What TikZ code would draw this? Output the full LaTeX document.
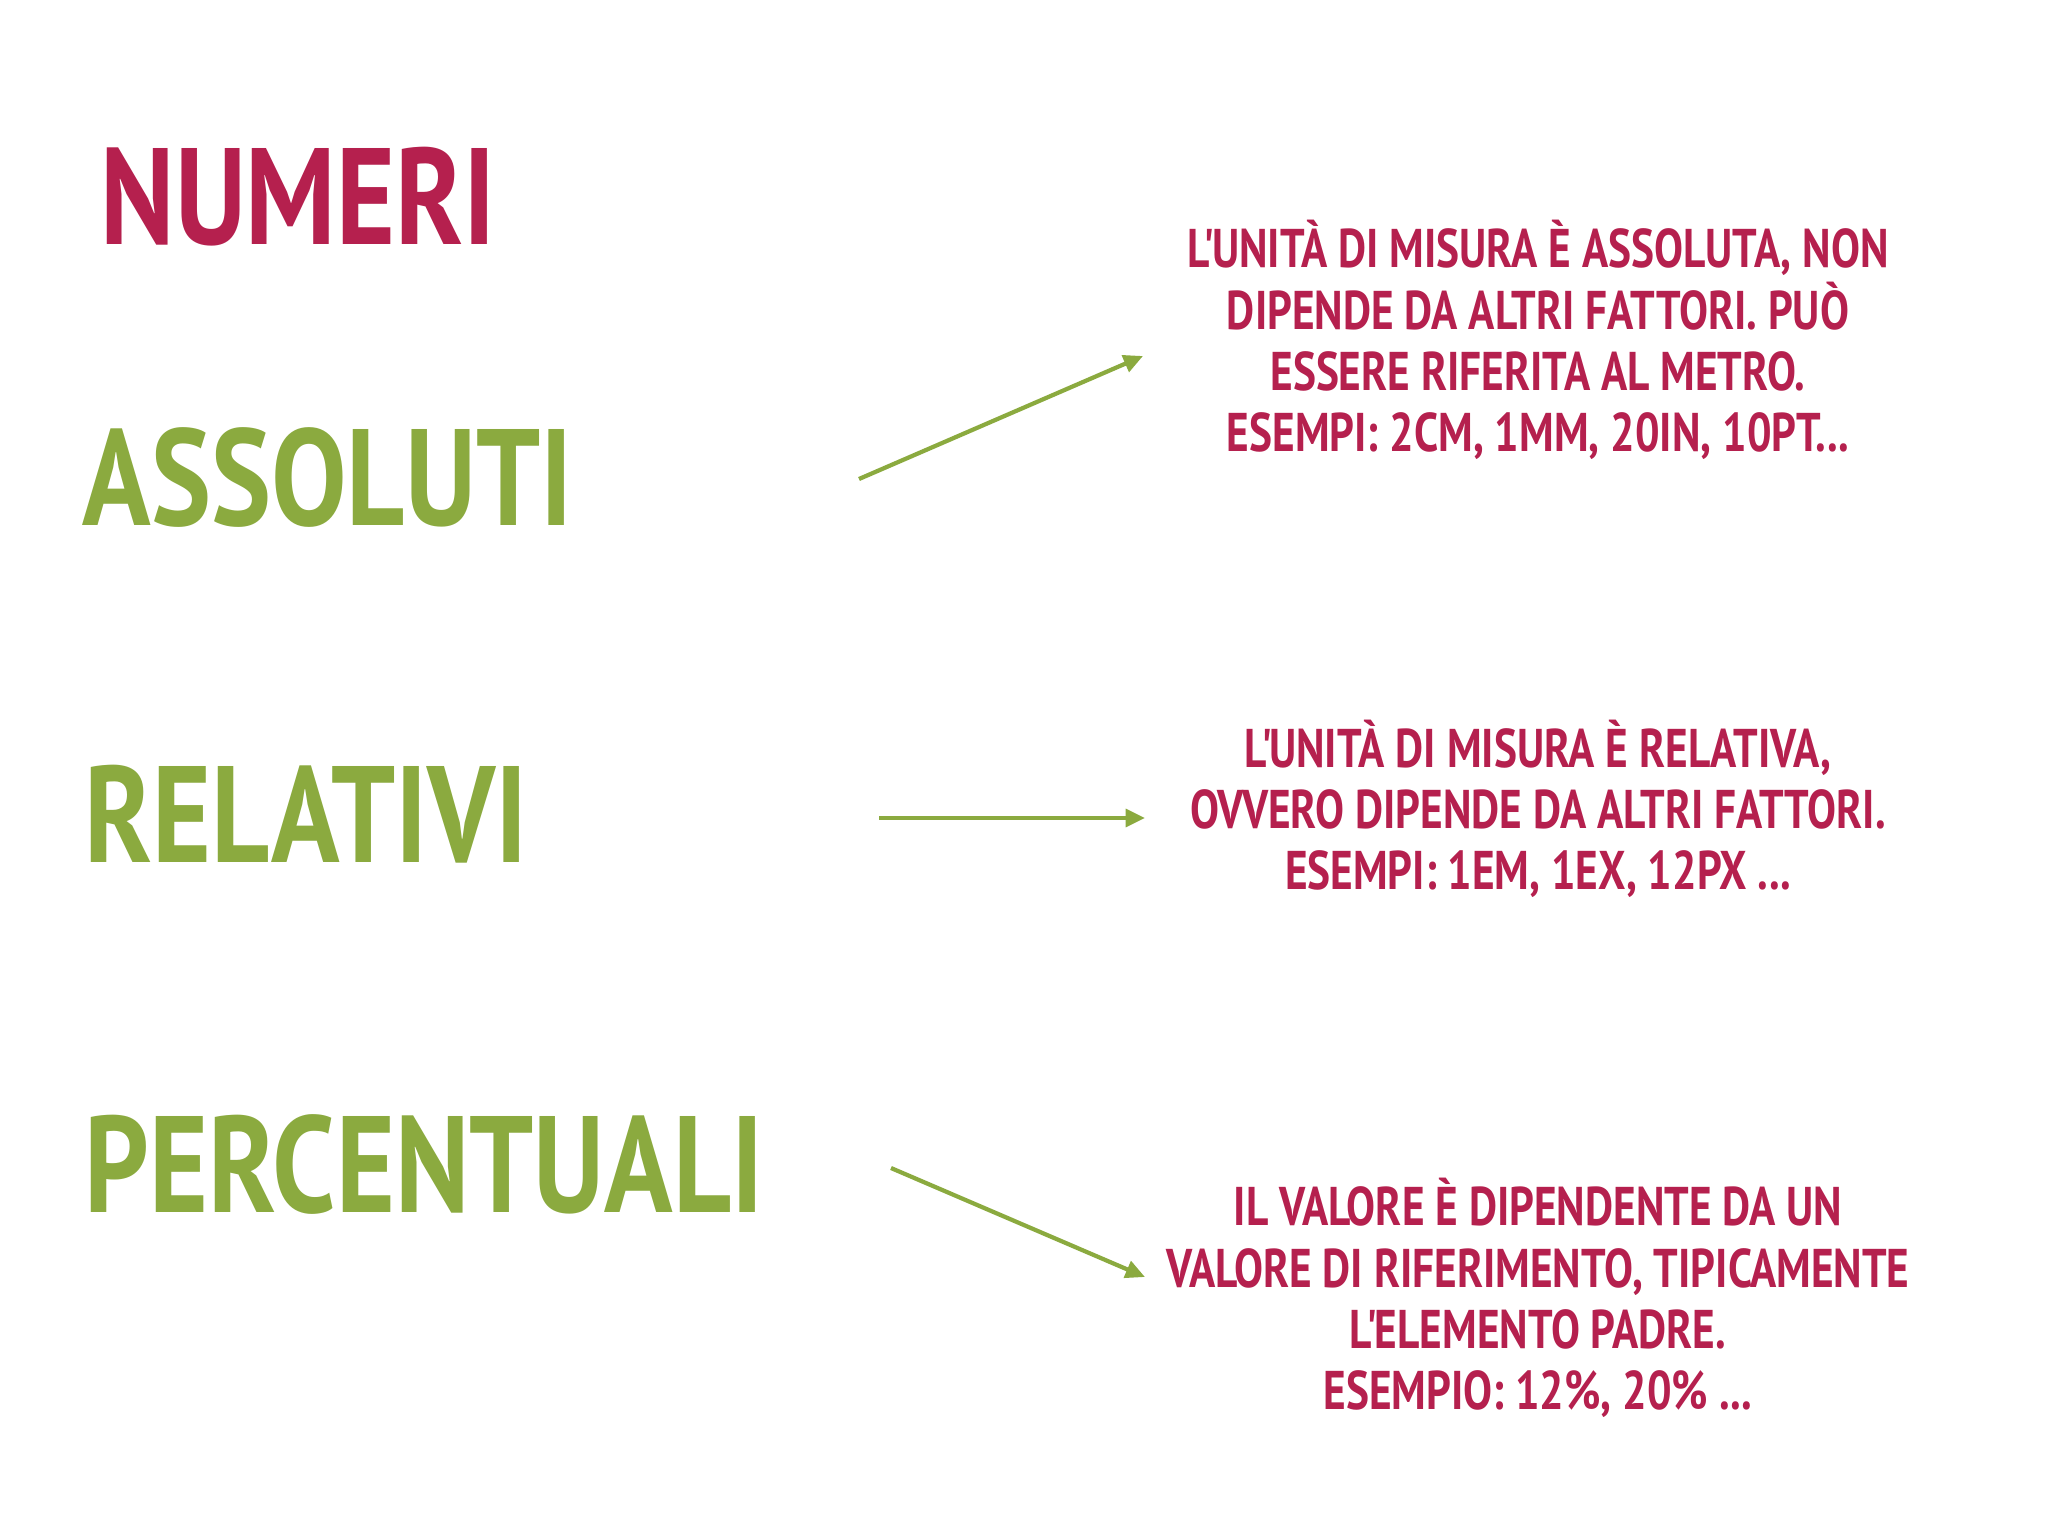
\documentclass[tikz,border=0pt]{standalone}
\usepackage{fontspec}
\setmainfont{PT Sans}[FakeStretch=0.795]
\newfontfamily\titlefont{PT Sans}[FakeStretch=0.825]
\usetikzlibrary{arrows.meta}
\definecolor{crimson}{HTML}{B5204E}
\definecolor{leaf}{HTML}{8BAA3F}
\newcommand{\apo}{\kern-1.6pt\textquotesingle\kern-1.6pt}
\tikzset{
  title/.style={anchor=base west, inner sep=0pt, font=\titlefont\bfseries\fontsize{39}{40}\selectfont},
  desc/.style={align=center, inner sep=0pt, text=crimson, font=\bfseries\fontsize{15.5}{17.4}\selectfont},
  conn/.style={draw=leaf, line width=1.2pt, -{Triangle[length=5.5pt,width=5pt]}}
}
\begin{document}
\begin{tikzpicture}[x=0.01cm,y=-0.01cm]
\fill[white] (0,0) rectangle (2048,1536);
\useasboundingbox (0,0) rectangle (2048,1536);
\node[title, text=crimson] (numeri) at (100,244) {NUMERI};
\node[title, text=leaf] (assoluti) at (82,525) {ASSOLUTI};
\node[title, text=leaf] (relativi) at (84,862) {RELATIVI};
\node[title, text=leaf] (percentuali) at (84,1212) {PERCENTUALI};
\node[desc] (d1) at (1538,340) {L\apo UNITÀ DI MISURA È ASSOLUTA, NON\\DIPENDE DA ALTRI FATTORI. PUÒ\\ESSERE RIFERITA AL METRO.\\ESEMPI: 2CM, 1MM, 20IN, 10PT...};
\node[desc] (d2) at (1538,809) {L\apo UNITÀ DI MISURA È RELATIVA,\\OVVERO DIPENDE DA ALTRI FATTORI.\\ESEMPI: 1EM, 1EX, 12PX ...};
\node[desc] (d3) at (1538,1298) {IL VALORE È DIPENDENTE DA UN\\VALORE DI RIFERIMENTO, TIPICAMENTE\\L\apo ELEMENTO PADRE.\\ESEMPIO: 12\%, 20\% ...};
\coordinate (a1s) at (859,479);
\coordinate (a1e) at (1143,356);
\coordinate (a2s) at (879,818);
\coordinate (a2e) at (1145,818);
\coordinate (a3s) at (891,1168);
\coordinate (a3e) at (1145,1277);
\draw[conn] (a1s) -- (a1e);
\draw[conn] (a2s) -- (a2e);
\draw[conn] (a3s) -- (a3e);
\end{tikzpicture}
\end{document}
